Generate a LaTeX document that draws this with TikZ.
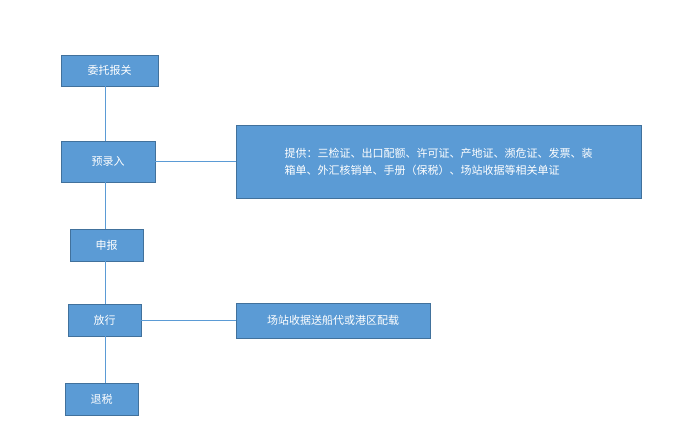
\documentclass[tikz,border=0pt]{standalone}
\usepackage{fontspec}
\newfontfamily\cjk{Noto Sans CJK SC}
\usetikzlibrary{positioning}
\definecolor{boxfill}{HTML}{5B9BD5}
\definecolor{boxline}{HTML}{41719C}
\begin{document}
\begin{tikzpicture}[
            x = 1pt, y = -1pt, % pixel units
            semithick
        ]

        \tikzset{
            stage/.style = {
                draw = boxline,
                fill = boxfill,
                text = white,
                font = \cjk\fontsize{11}{17}\selectfont,
                inner sep = 0pt
            },
            link/.style = {draw = boxfill, thin}
        }

        \useasboundingbox (0,0) rectangle (696,437);
        \coordinate (col) at (105,0);

        \node[stage, minimum width=97pt, minimum height=31pt] (agent) at (109.5,70.5) {委托报关};
        \node[stage, minimum width=94pt, minimum height=41pt] (entry) at (108,161.5) {预录入};
        \node[stage, minimum width=73pt, minimum height=32pt] (declare) at (106.5,245) {申报};
        \node[stage, minimum width=73pt, minimum height=32pt] (release) at (104.5,320) {放行};
        \node[stage, minimum width=73pt, minimum height=32pt] (refund) at (101.5,399) {退税};

        \node[stage, minimum width=405pt, minimum height=73pt, align=left] (docs) at (438.5,161.5)
            {提供：三检证、出口配额、许可证、产地证、濒危证、发票、装\\箱单、外汇核销单、手册（保税）、场站收据等相关单证};
        \node[stage, minimum width=194pt, minimum height=35pt] (yard) at (333,320.5) {场站收据送船代或港区配载};

        \path[link] (agent.south -| col) -- (entry.north -| col);
        \path[link] (entry.south -| col) -- (declare.north -| col);
        \path[link] (declare.south -| col) -- (release.north -| col);
        \path[link] (release.south -| col) -- (refund.north -| col);
        \path[link] (entry.east) -- (docs.west);
        \path[link] (release.east) -- (yard.west |- release.east);

    \end{tikzpicture}
\end{document}
